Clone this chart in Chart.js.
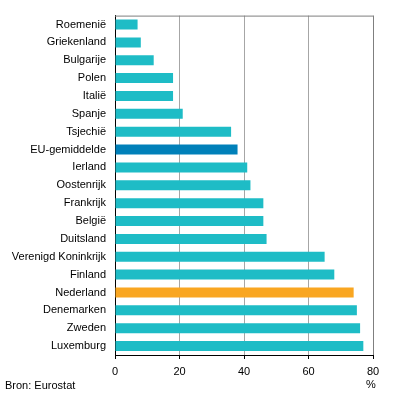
<!DOCTYPE html>
<html>
<head>
<meta charset="utf-8">
<script src="https://cdn.jsdelivr.net/npm/chart.js@4"></script>
<style>
  html, body { margin: 0; padding: 0; background: #fff; }
  #wrap { width: 396px; height: 397px; position: relative; }
</style>
</head>
<body>
<div id="wrap"><canvas id="barChart"></canvas></div>
<script>
const countries = ['Roemenië', 'Griekenland', 'Bulgarije', 'Polen', 'Italië', 'Spanje', 'Tsjechië',
  'EU-gemiddelde', 'Ierland', 'Oostenrijk', 'Frankrijk', 'België', 'Duitsland',
  'Verenigd Koninkrijk', 'Finland', 'Nederland', 'Denemarken', 'Zweden', 'Luxemburg'];
const values = [7, 8, 12, 18, 18, 21, 36, 38, 41, 42, 46, 46, 47, 65, 68, 74, 75, 76, 77];
const xTicks = [0, 20, 40, 60, 80];
const source = 'Bron: Eurostat';
const unit = '%';

const teal = '#1ebcc6';
const colors = countries.map(c => c === 'EU-gemiddelde' ? '#0080b9' : c === 'Nederland' ? '#f9a621' : teal);

const font = { family: 'Arial, "Liberation Sans", sans-serif', size: 11 };

// top frame line + footer texts
const extras = {
  id: 'extras',
  beforeDatasetsDraw(chart) {
    const { ctx, chartArea } = chart;
    ctx.save();
    ctx.strokeStyle = '#7f7f7f';
    ctx.lineWidth = 1;
    ctx.beginPath();
    ctx.moveTo(chartArea.left, chartArea.top + 0.5);
    ctx.lineTo(chartArea.right + 0.5, chartArea.top + 0.5);
    ctx.stroke();
    ctx.restore();
  },
  afterDraw(chart) {
    const { ctx } = chart;
    const xs = chart.scales.x;
    ctx.save();
    ctx.fillStyle = '#000';
    ctx.font = '11px ' + font.family;
    ctx.textBaseline = 'middle';
    ctx.textAlign = 'center';
    ctx.fillText(unit, xs.getPixelForValue(80) - 2, 385);
    ctx.textAlign = 'left';
    ctx.fillText(source, 5, 386);
    ctx.restore();
  }
};

new Chart(document.getElementById('barChart'), {
  type: 'bar',
  data: {
    labels: countries,
    datasets: [{
      data: values,
      backgroundColor: colors,
      categoryPercentage: 0.56,
      barPercentage: 1
    }]
  },
  options: {
    indexAxis: 'y',
    responsive: true,
    maintainAspectRatio: false,
    animation: false,
    layout: { padding: { top: 15, right: 23, left: 0, bottom: 0 } },
    plugins: { legend: { display: false }, tooltip: { enabled: false } },
    scales: {
      x: {
        min: 0, max: 80,
        afterBuildTicks: axis => { axis.ticks = xTicks.map(v => ({ value: v })); },
        afterFit: axis => { axis.height = 42; },
        grid: {
          color: ctx => ctx.tick && ctx.tick.value === 80 ? '#7f7f7f' : '#a6a6a6',
          tickColor: '#000',
          tickLength: 4,
          lineWidth: 1
        },
        border: { display: true, color: '#000' },
        ticks: { color: '#000', font: font, padding: 6, maxRotation: 0 }
      },
      y: {
        afterFit: axis => { axis.width = 115; },
        grid: { display: false, drawTicks: false },
        border: { display: true, color: '#000' },
        ticks: { color: '#000', font: font, padding: 9, autoSkip: false }
      }
    }
  },
  plugins: [extras]
});
</script>
</body>
</html>
